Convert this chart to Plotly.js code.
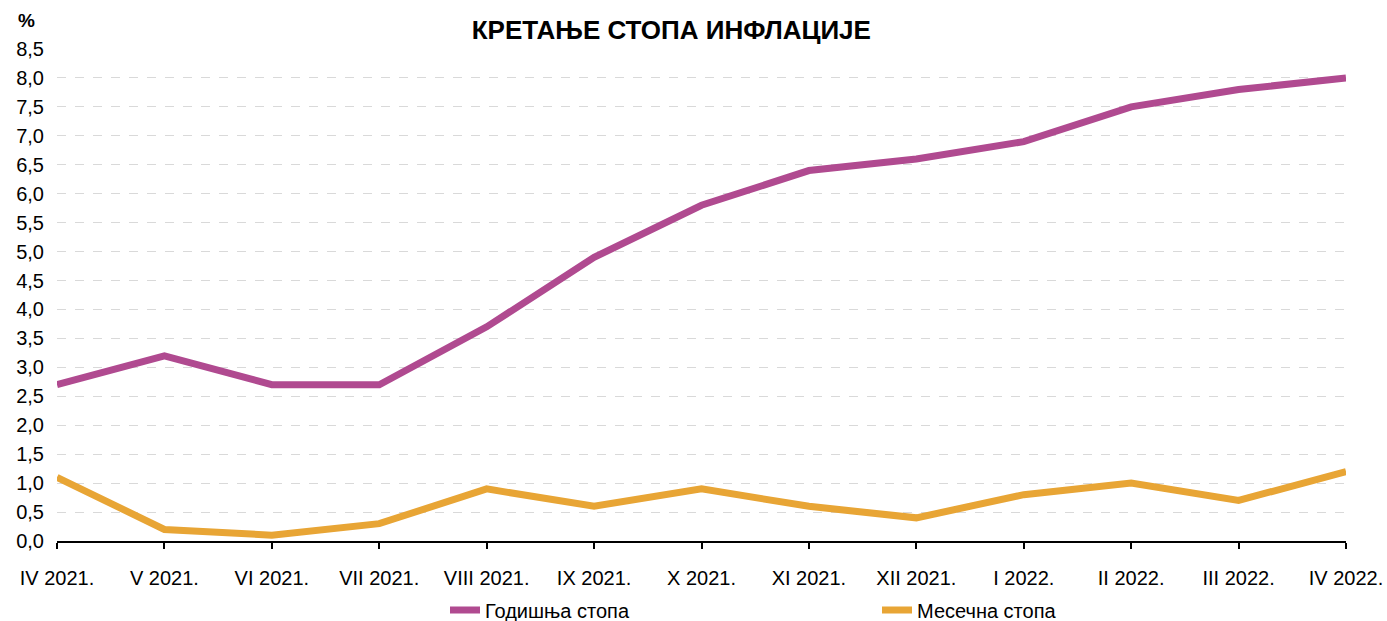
<!DOCTYPE html>
<html>
<head>
<meta charset="utf-8">
<script src="https://cdn.plot.ly/plotly-3.0.1.min.js"></script>
<style>html,body{margin:0;padding:0;background:#fff;}#chart{width:1387px;height:621px;}</style>
</head>
<body>
<div id="chart"></div>
<script>
const months = ["IV 2021.", "V 2021.", "VI 2021.", "VII 2021.", "VIII 2021.", "IX 2021.", "X 2021.", "XI 2021.", "XII 2021.", "I 2022.", "II 2022.", "III 2022.", "IV 2022."];
const annualRate = [2.7, 3.2, 2.7, 2.7, 3.7, 4.9, 5.8, 6.4, 6.6, 6.9, 7.5, 7.8, 8.0];
const monthlyRate = [1.1, 0.2, 0.1, 0.3, 0.9, 0.6, 0.9, 0.6, 0.4, 0.8, 1.0, 0.7, 1.2];
const yTicks = [0, 0.5, 1, 1.5, 2, 2.5, 3, 3.5, 4, 4.5, 5, 5.5, 6, 6.5, 7, 7.5, 8, 8.5];

const font = "Liberation Sans, Arial, sans-serif";
const traces = [
  {x: months, y: annualRate, type: "scatter", mode: "lines", name: "Годишња стопа",
   line: {color: "#B04A90", width: 7}},
  {x: months, y: monthlyRate, type: "scatter", mode: "lines", name: "Месечна стопа",
   line: {color: "#E8A535", width: 7}}
];
const layout = {
  width: 1387, height: 621,
  paper_bgcolor: "#fff", plot_bgcolor: "#fff",
  margin: {l: 57, r: 41, t: 49, b: 80},
  separators: ",.",
  font: {family: font, size: 20, color: "#000"},
  title: {text: "<b>КРЕТАЊЕ СТОПА ИНФЛАЦИЈЕ</b>", font: {family: font, size: 26, color: "#000"},
          x: 0.484, xref: "container", xanchor: "center", y: 1 - 30/621, yref: "container", yanchor: "middle"},
  xaxis: {
    type: "category", range: [0, months.length - 1],
    showline: true, linecolor: "#000", linewidth: 2,
    ticks: "outside", ticklen: 6, tickwidth: 2, tickcolor: "#000",
    showgrid: false, zeroline: false, ticklabelstandoff: 12,
    tickfont: {family: font, size: 20, color: "#000"}
  },
  yaxis: {
    range: [0, 8.5], tickvals: yTicks, tickformat: ".1f",
    showgrid: true, gridcolor: "#d9d9d9", griddash: "dash", gridwidth: 1,
    zeroline: false, showline: false, ticks: "", ticklabelstandoff: 12,
    tickfont: {family: font, size: 20, color: "#000"}
  },
  showlegend: true,
  legend: {orientation: "h", x: 445/1387, xref: "container", xanchor: "left",
           y: 1 - 610/621, yref: "container", yanchor: "middle",
           entrywidth: 387, entrywidthmode: "pixels",
           font: {family: font, size: 20, color: "#000"}},
  annotations: [
    {text: "<b>%</b>", xref: "paper", yref: "paper", x: -0.024, y: (541 - 20) / 492, xanchor: "center", yanchor: "middle",
     showarrow: false, font: {family: font, size: 19, color: "#000"}}
  ]
};
Plotly.newPlot("chart", traces, layout, {displayModeBar: false, staticPlot: true});
</script>
</body>
</html>
